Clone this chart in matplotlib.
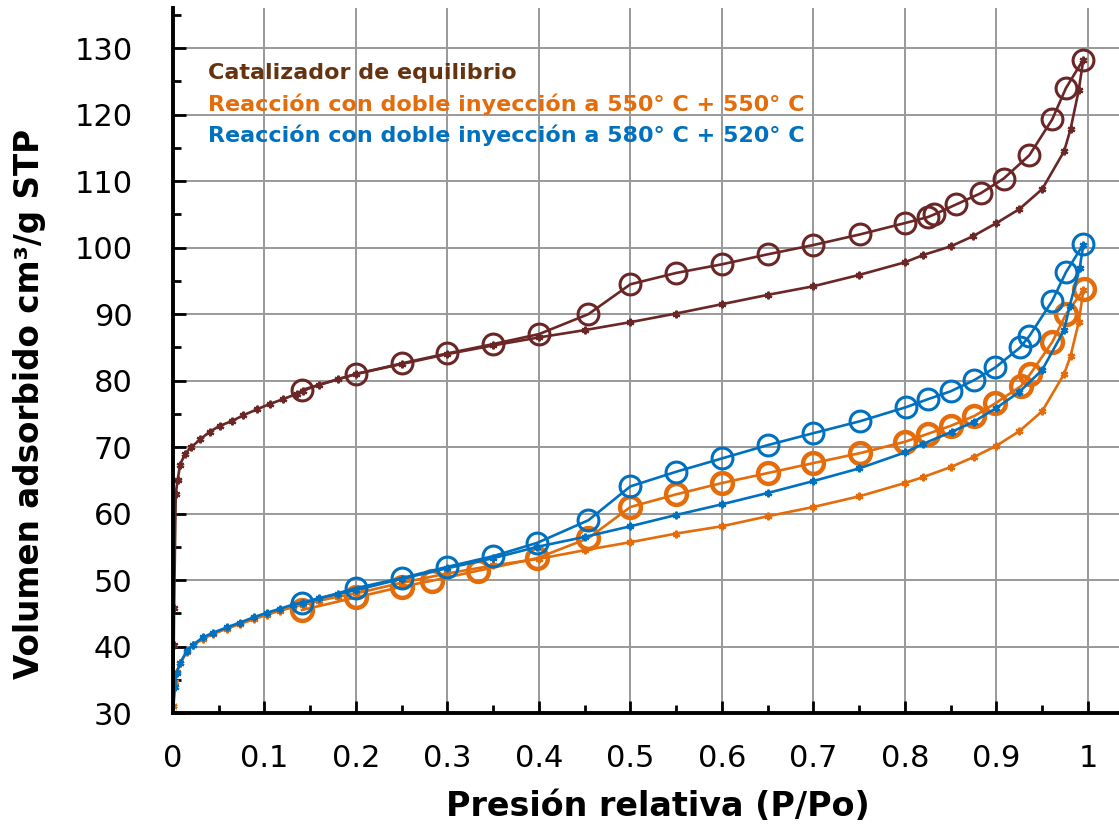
import numpy as np
import matplotlib
matplotlib.use("Agg")
import matplotlib.pyplot as plt
from matplotlib.ticker import MultipleLocator

# Catalizador de equilibrio
eq_ads_p = [0.0003, 0.0008, 0.0012, 0.003, 0.005, 0.0077, 0.013, 0.02, 0.03, 0.04, 0.051,
            0.064, 0.077, 0.092, 0.106, 0.12, 0.135, 0.142, 0.16, 0.18, 0.2, 0.25, 0.3,
            0.35, 0.4, 0.45, 0.5, 0.55, 0.6, 0.65, 0.7, 0.75, 0.8, 0.82, 0.85, 0.874,
            0.9, 0.925, 0.95, 0.974, 0.981, 0.99, 0.995]
eq_ads_v = [31.0, 40.2, 45.8, 63.0, 65.0, 67.3, 69.0, 70.0, 71.2, 72.3, 73.2,
            73.9, 74.8, 75.7, 76.5, 77.2, 78.0, 78.5, 79.4, 80.2, 81.0, 82.5, 84.0,
            85.3, 86.5, 87.6, 88.8, 90.1, 91.5, 92.9, 94.2, 95.9, 97.8, 98.9, 100.2, 101.7,
            103.7, 105.8, 108.8, 114.5, 117.8, 123.7, 128.3]
eq_des_p = [0.995, 0.976, 0.961, 0.936, 0.908, 0.883, 0.856, 0.832, 0.825, 0.80, 0.751,
            0.70, 0.65, 0.60, 0.55, 0.50, 0.454, 0.40, 0.35, 0.30, 0.25, 0.20, 0.141]
eq_des_v = [128.3, 124.0, 119.3, 113.9, 110.4, 108.2, 106.5, 105.0, 104.6, 103.7, 102.0,
            100.4, 99.0, 97.5, 96.2, 94.5, 90.0, 87.0, 85.5, 84.1, 82.6, 81.0, 78.6]

# Reacción 550 + 550
or_ads_p = [0.0003, 0.002, 0.004, 0.008, 0.015, 0.022, 0.033, 0.044, 0.059, 0.073, 0.088,
            0.103, 0.117, 0.131, 0.142, 0.16, 0.18, 0.2, 0.25, 0.3, 0.35, 0.4, 0.45, 0.5,
            0.55, 0.6, 0.65, 0.7, 0.75, 0.8, 0.82, 0.85, 0.875, 0.9, 0.925, 0.95, 0.974,
            0.981, 0.99, 0.995]
or_ads_v = [31.0, 34.7, 36.2, 37.5, 39.2, 40.2, 41.2, 41.9, 42.7, 43.4, 44.1,
            44.8, 45.4, 45.9, 46.3, 46.9, 47.5, 48.0, 49.6, 51.0, 52.2, 53.2, 54.5, 55.7,
            57.0, 58.1, 59.6, 61.0, 62.6, 64.6, 65.5, 67.0, 68.5, 70.2, 72.4, 75.4, 81.0,
            83.7, 88.8, 93.6]
or_des_p = [0.996, 0.976, 0.961, 0.937, 0.927, 0.899, 0.876, 0.85, 0.825, 0.80, 0.751,
            0.70, 0.65, 0.60, 0.55, 0.50, 0.454, 0.398, 0.333, 0.283, 0.25, 0.20, 0.141]
or_des_v = [93.8, 90.0, 85.8, 81.0, 79.2, 76.6, 74.7, 73.2, 72.0, 70.8, 69.1,
            67.6, 66.1, 64.6, 62.9, 61.0, 56.3, 53.3, 51.4, 49.9, 49.0, 47.4, 45.5]

# Reacción 580 + 520
bl_ads_p = [0.0, 0.002, 0.004, 0.008, 0.015, 0.022, 0.033, 0.044, 0.059, 0.073, 0.088,
            0.103, 0.117, 0.131, 0.142, 0.16, 0.18, 0.2, 0.25, 0.3, 0.35, 0.398, 0.45, 0.5,
            0.55, 0.6, 0.65, 0.7, 0.75, 0.8, 0.82, 0.851, 0.875, 0.9, 0.925, 0.95, 0.974,
            0.98, 0.991, 0.995]
bl_ads_v = [30.0, 33.9, 36.0, 37.6, 39.3, 40.3, 41.4, 42.1, 42.9, 43.6, 44.4,
            45.1, 45.7, 46.3, 46.6, 47.3, 47.9, 48.5, 50.2, 51.8, 53.3, 55.0, 56.5, 58.1,
            59.8, 61.4, 63.1, 64.9, 66.8, 69.2, 70.5, 72.3, 73.8, 75.9, 78.3, 81.6, 87.6,
            91.2, 96.9, 100.4]
bl_des_p = [0.995, 0.976, 0.961, 0.936, 0.926, 0.899, 0.876, 0.85, 0.825, 0.801, 0.751,
            0.70, 0.65, 0.60, 0.55, 0.50, 0.454, 0.398, 0.35, 0.30, 0.25, 0.20, 0.141]
bl_des_v = [100.5, 96.3, 92.0, 86.7, 85.0, 82.0, 80.1, 78.4, 77.2, 76.0, 73.9,
            72.1, 70.3, 68.3, 66.3, 64.1, 59.0, 55.6, 53.6, 52.0, 50.3, 48.8, 46.5]

xtick_labels = ["0", "0.1", "0.2", "0.3", "0.4", "0.5", "0.6", "0.7", "0.8", "0.9", "1"]

brown = "#6B2626"
orange = "#E46C0A"
blue = "#0070C0"

fig = plt.figure(figsize=(11.19, 8.34), dpi=100)
ax = fig.add_axes([0.1546, 0.145, 0.8454, 0.845])

series = [
    (eq_ads_p, eq_ads_v, eq_des_p, eq_des_v, brown, 2.2),
    (or_ads_p, or_ads_v, or_des_p, or_des_v, orange, 3.2),
    (bl_ads_p, bl_ads_v, bl_des_p, bl_des_v, blue, 2.2),
]
for ap, av, dp, dv, c, mew in series:
    ax.plot(ap, av, color=c, lw=1.9, marker=(6, 2, 0), ms=5.5, mew=1.6, zorder=3)
    ax.plot(dp, dv, color=c, lw=1.9, marker="o", ms=15, mfc="none", mec=c, mew=mew, zorder=3)

ax.set_xlim(0, 1.034)
ax.set_ylim(30, 136)
ax.xaxis.set_minor_locator(MultipleLocator(0.05))
ax.yaxis.set_major_locator(MultipleLocator(10))
ax.yaxis.set_minor_locator(MultipleLocator(5))
ax.set_xticks([0, 0.1, 0.2, 0.3, 0.4, 0.5, 0.6, 0.7, 0.8, 0.9, 1.0])
ax.set_xticklabels(xtick_labels)
ax.grid(True, which="major", color="#999999", lw=1.4, zorder=0)
ax.tick_params(which="both", direction="in", width=2, labelsize=22)
ax.tick_params(which="major", length=9)
ax.tick_params(axis="x", which="major", pad=22)
ax.tick_params(axis="y", which="major", pad=29)
ax.tick_params(which="minor", length=6)
for s in ["top", "right"]:
    ax.spines[s].set_visible(False)
for s in ["left", "bottom"]:
    ax.spines[s].set_linewidth(2.8)
    ax.spines[s].set_zorder(4)

fig.text(658 / 1119, 1 - 807 / 834, "Presión relativa (P/Po)", fontsize=24,
         fontweight="bold", ha="center", va="center")
fig.text(30 / 1119, 1 - 404 / 834, "Volumen adsorbido cm³/g STP", fontsize=23.5,
         fontweight="bold", rotation=90, ha="center", va="center")

ax.text(0.037, 0.908, "Catalizador de equilibrio", transform=ax.transAxes,
        color="#663311", fontsize=16, fontweight="bold", va="center")
ax.text(0.037, 0.864, "Reacción con doble inyección a 550° C + 550° C", transform=ax.transAxes,
        color=orange, fontsize=16, fontweight="bold", va="center")
ax.text(0.037, 0.820, "Reacción con doble inyección a 580° C + 520° C", transform=ax.transAxes,
        color=blue, fontsize=16, fontweight="bold", va="center")

fig.savefig("out.png", dpi=100)
